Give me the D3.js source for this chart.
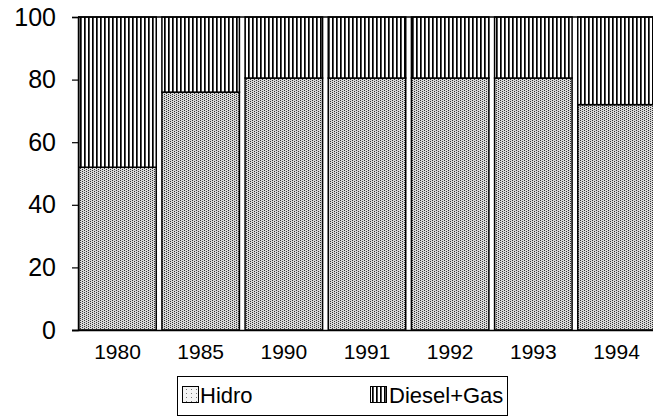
<!DOCTYPE html>
<html>
<head>
<meta charset="utf-8">
<script src="https://cdn.jsdelivr.net/npm/d3@7"></script>
<style>
  html, body { margin: 0; padding: 0; background: #fff; }
  svg { display: block; }
  text { font-family: Arial, "Liberation Sans", sans-serif; fill: #000; }
</style>
</head>
<body>
<svg id="chart" width="653" height="419"></svg>
<script>
// Share of electricity generation by source (%)
const years = ["1980", "1985", "1990", "1991", "1992", "1993", "1994"];
const hidro = [52, 76, 80.5, 80.5, 80.5, 80.5, 72];
const dieselGas = hidro.map(v => 100 - v);
const seriesNames = ["Hidro", "Diesel+Gas"];
const yTicks = [0, 20, 40, 60, 80, 100];

const svg = d3.select("#chart");
const margin = { left: 78, right: -3, top: 17, bottom: 89 };
const W = 653, H = 419;

const x = d3.scaleBand()
  .domain(years)
  .range([margin.left, W - margin.right])
  .paddingInner(0.05)
  .paddingOuter(0);

const y = d3.scaleLinear()
  .domain([0, 100])
  .range([H - margin.bottom, margin.top]);

// Fill patterns: stipple for hydro, vertical hatching for diesel + gas
const defs = svg.append("defs");
const stip = defs.append("pattern")
  .attr("id", "stipple").attr("patternUnits", "userSpaceOnUse")
  .attr("width", 4).attr("height", 2);
stip.append("rect").attr("width", 4).attr("height", 2).attr("fill", "#d8d8d8");
stip.append("rect").attr("x", 0).attr("y", 0).attr("width", 1).attr("height", 1).attr("fill", "#333");
stip.append("rect").attr("x", 2).attr("y", 1).attr("width", 1).attr("height", 1).attr("fill", "#333");

const stipLight = defs.append("pattern")
  .attr("id", "stippleLight").attr("patternUnits", "userSpaceOnUse")
  .attr("width", 5).attr("height", 4);
stipLight.append("rect").attr("width", 5).attr("height", 4).attr("fill", "#f4f4f4");
stipLight.append("rect").attr("x", 1).attr("y", 1).attr("width", 1).attr("height", 1).attr("fill", "#777");

const hatch = defs.append("pattern")
  .attr("id", "hatch").attr("patternUnits", "userSpaceOnUse")
  .attr("width", 4).attr("height", 4);
hatch.append("rect").attr("width", 4).attr("height", 4).attr("fill", "#fff");
hatch.append("rect").attr("x", 0).attr("y", 0).attr("width", 1.7).attr("height", 4).attr("fill", "#000");

const stacked = d3.stack().keys([0, 1])
  .value((d, k) => k === 0 ? d.h : d.d)(
    years.map((yr, i) => ({ year: yr, h: hidro[i], d: dieselGas[i] }))
  );
const fills = ["url(#stipple)", "url(#hatch)"];

stacked.forEach((layer, li) => {
  svg.append("g")
    .selectAll("rect")
    .data(layer)
    .join("rect")
    .attr("x", d => x(d.data.year) + 0.75)
    .attr("y", d => y(d[1]))
    .attr("width", x.bandwidth() - 1.5)
    .attr("height", d => y(d[0]) - y(d[1]))
    .attr("fill", fills[li])
    .attr("stroke", "#000")
    .attr("stroke-width", 1.5);
});

// Top frame line
svg.append("line")
  .attr("x1", margin.left).attr("x2", W)
  .attr("y1", y(100)).attr("y2", y(100))
  .attr("stroke", "#000").attr("stroke-width", 1.5);

// Y axis
const yAxis = svg.append("g")
  .attr("transform", `translate(${margin.left},0)`)
  .call(d3.axisLeft(y).tickValues(yTicks).tickSize(6).tickPadding(6));
yAxis.select(".domain").attr("stroke", "#000").attr("stroke-width", 1.5);
yAxis.selectAll(".tick line").attr("stroke", "#000").attr("stroke-width", 1.2);
yAxis.selectAll("text")
  .attr("font-size", 25)
  .attr("font-family", "Arial, 'Liberation Sans', sans-serif")
  .attr("dx", -10);

// X axis
const xAxis = svg.append("g")
  .attr("transform", `translate(0,${y(0)})`)
  .call(d3.axisBottom(x).tickSize(0).tickPadding(14));
xAxis.select(".domain").attr("stroke", "#000").attr("stroke-width", 1.5)
  .attr("d", `M${margin.left - 6},0.5H${W}`);
xAxis.selectAll("text")
  .attr("font-size", 21)
  .attr("font-family", "Arial, 'Liberation Sans', sans-serif");

// Legend
const legend = svg.append("g");
legend.append("rect")
  .attr("x", 177.5).attr("y", 376.5).attr("width", 330).attr("height", 39)
  .attr("fill", "#fff").attr("stroke", "#000").attr("stroke-width", 1);
const legendItems = [
  { name: seriesNames[0], fill: "url(#stippleLight)", sx: 182, tx: 200 },
  { name: seriesNames[1], fill: "url(#hatch)", sx: 370, tx: 389 }
];
legendItems.forEach(it => {
  legend.append("rect")
    .attr("x", it.sx + 0.5).attr("y", 386.5).attr("width", 16).attr("height", 16)
    .attr("fill", it.fill).attr("stroke", "#000").attr("stroke-width", 1);
  legend.append("text")
    .attr("x", it.tx).attr("y", 403)
    .attr("font-size", 22)
    .text(it.name);
});
</script>
</body>
</html>
